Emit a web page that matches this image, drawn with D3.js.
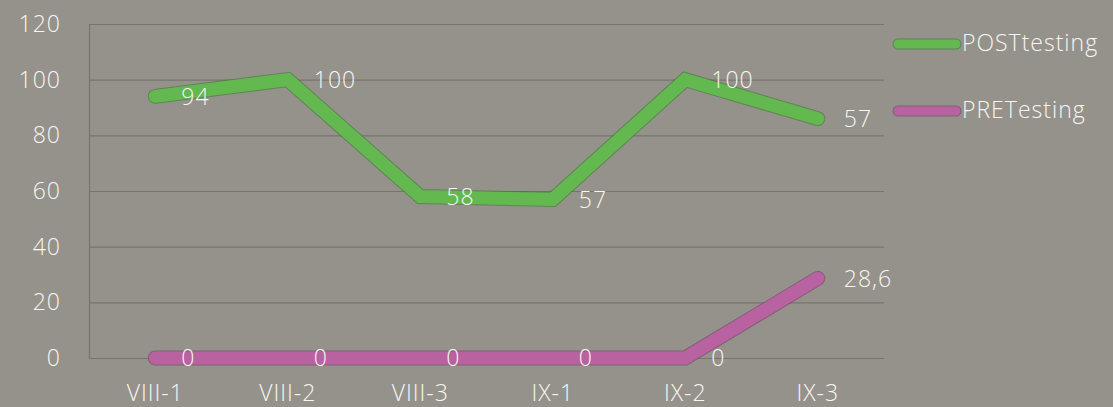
<!DOCTYPE html>
<html>
<head>
<meta charset="utf-8">
<script src="https://cdn.jsdelivr.net/npm/d3@7"></script>
<style>
  html, body { margin: 0; padding: 0; background: #95928b; }
  svg { display: block; }
</style>
</head>
<body>
<svg id="chart"></svg>
<script>
const width = 1113
const height = 407
const margin = {top: 24, right: 229, bottom: 49, left: 89}

const categories = ["VIII-1", "VIII-2", "VIII-3", "IX-1", "IX-2", "IX-3"]
const postValues = [94, 100, 58, 57, 100, 86]
const postLabels = ["94", "100", "58", "57", "100", "57"]
const preValues = [0, 0, 0, 0, 0, 28.6]
const preLabels = ["0", "0", "0", "0", "0", "28,6"]
const yTicks = [0, 20, 40, 60, 80, 100, 120]

const series = [
  {name: "POSTtesting", values: postValues, labels: postLabels, color: "#63b84f", edge: "#3f7a33"},
  {name: "PRETesting", values: preValues, labels: preLabels, color: "#b862a2", edge: "#7a3c6a"}
]

const textColor = "#f7f6f2"
const font = "'Open Sans', sans-serif"
const fontSize = 23

const x = d3.scaleBand()
  .domain(categories)
  .range([margin.left, width - margin.right])

const y = d3.scaleLinear()
  .domain([0, 120])
  .range([height - margin.bottom, margin.top])

const svg = d3.select("#chart")
  .attr("width", width)
  .attr("height", height)

const styleText = sel => sel
  .attr("fill", textColor)
  .attr("font-family", font)
  .attr("font-size", fontSize)
  .attr("font-weight", 300)
  .attr("letter-spacing", 1)

// grid
svg.append("g")
  .selectAll("line")
  .data(yTicks)
  .join("line")
    .attr("x1", margin.left)
    .attr("x2", width - margin.right)
    .attr("y1", d => y(d) + 0.5)
    .attr("y2", d => y(d) + 0.5)
    .attr("stroke", "#76746e")
    .attr("stroke-width", 1.2)

svg.append("line")
  .attr("x1", margin.left + 0.5).attr("x2", margin.left + 0.5)
  .attr("y1", y(120)).attr("y2", y(0) + 1)
  .attr("stroke", "#76746e")
  .attr("stroke-width", 1.2)

// y labels
svg.append("g")
  .attr("transform", `translate(${margin.left - 28},0)`)
  .call(d3.axisLeft(y).tickValues(yTicks).tickSize(0).tickPadding(0))
  .call(g => g.select(".domain").remove())
  .call(g => g.selectAll("text").call(styleText))

// x labels
svg.append("g")
  .attr("transform", `translate(0,${y(0) + 27})`)
  .call(d3.axisBottom(x).tickSize(0).tickPadding(0))
  .call(g => g.select(".domain").remove())
  .call(g => g.selectAll("text").call(styleText))

const line = d3.line()
  .x((d, i) => x(categories[i]) + x.bandwidth() / 2)
  .y(d => y(d))

const plot = svg.append("g")

series.slice().reverse().forEach(s => {
  plot.append("path")
    .attr("d", line(s.values))
    .attr("fill", "none")
    .attr("stroke", s.edge)
    .attr("stroke-width", 15)
    .attr("stroke-linecap", "round")
    .attr("stroke-linejoin", "miter")
    .attr("opacity", 0.6)
  plot.append("path")
    .attr("d", line(s.values))
    .attr("fill", "none")
    .attr("stroke", s.color)
    .attr("stroke-width", 13)
    .attr("stroke-linecap", "round")
    .attr("stroke-linejoin", "miter")
})

// data labels
series.forEach(s => {
  svg.append("g")
    .selectAll("text")
    .data(s.values)
    .join("text")
      .attr("x", (d, i) => x(categories[i]) + x.bandwidth() / 2 + 26)
      .attr("y", (d, i) => y(d) + 2)
      .attr("dominant-baseline", "middle")
      .call(styleText)
      .text((d, i) => s.labels[i])
})

// legend
const legend = svg.append("g")
  .selectAll("g")
  .data(series)
  .join("g")
    .attr("transform", (d, i) => `translate(${width - margin.right + 14},${44 + i * 67})`)

legend.append("line")
  .attr("x1", 0).attr("x2", 58)
  .attr("stroke", d => d.edge)
  .attr("stroke-width", 11)
  .attr("stroke-linecap", "round")
  .attr("opacity", 0.6)
legend.append("line")
  .attr("x1", 0).attr("x2", 58)
  .attr("stroke", d => d.color)
  .attr("stroke-width", 9)
  .attr("stroke-linecap", "round")
legend.append("text")
  .attr("x", 64)
  .attr("y", 1)
  .attr("dominant-baseline", "middle")
  .call(styleText)
  .text(d => d.name)
</script>
</body>
</html>
